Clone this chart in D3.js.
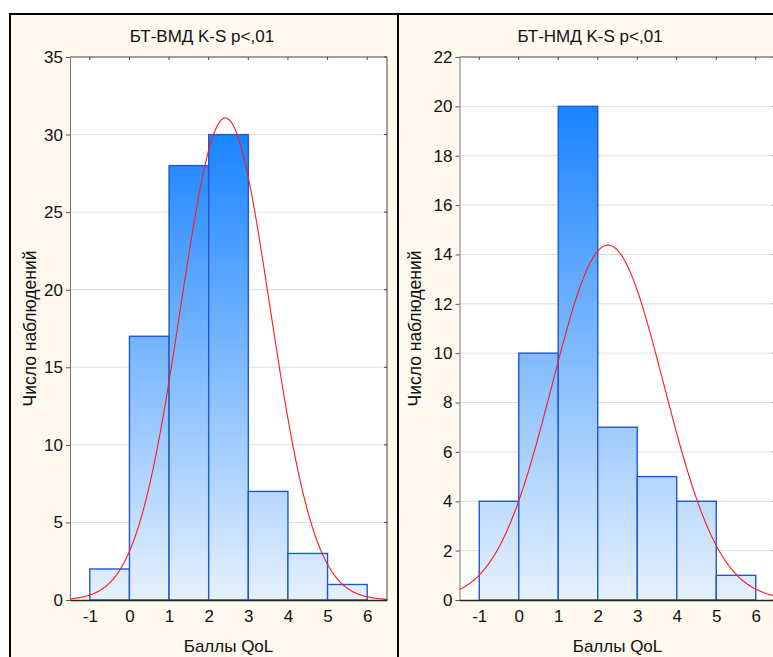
<!DOCTYPE html>
<html>
<head>
<meta charset="utf-8">
<script src="https://cdn.jsdelivr.net/npm/d3@7"></script>
<style>
  html, body { margin: 0; padding: 0; background: #ffffff; }
  svg { display: block; }
  text { font-family: Arial, "Liberation Sans", sans-serif; fill: #111; }
</style>
</head>
<body>
<svg id="chart" width="773" height="657"></svg>
<script>
// Histogram bins: each bin starts at binStarts[i] and is one point wide
const binStarts = [-1, 0, 1, 2, 3, 4, 5];
const binWidth = 1;
const xTickValues = [-1, 0, 1, 2, 3, 4, 5, 6];

// Observation counts per bin for the two groups
const countsVMD = [2, 17, 28, 30, 7, 3, 1];
const countsNMD = [4, 10, 20, 7, 5, 4, 1];

// Y axis tick values
const yTicksVMD = [0, 5, 10, 15, 20, 25, 30, 35];
const yTicksNMD = [0, 2, 4, 6, 8, 10, 12, 14, 16, 18, 20, 22];

// Fitted normal curve parameters (mean, standard deviation)
const fitMeans = [2.42, 2.26];
const fitSDs = [1.13, 1.415];

const titles = ["БТ-ВМД K-S p<,01", "БТ-НМД K-S p<,01"];
const xLabel = "Баллы QoL";
const yLabel = "Число наблюдений";

const svg = d3.select("#chart");
const defs = svg.append("defs");

const panels = [
  { x0: 9, width: 388, plotLeft: 70, plotRight: 387, yLabelX: 30,
    counts: countsVMD, yTicks: yTicksVMD, yMax: 35, mean: fitMeans[0], sd: fitSDs[0], title: titles[0] },
  { x0: 397, width: 388, plotLeft: 459.5, plotRight: 775.5, yLabelX: 415,
    counts: countsNMD, yTicks: yTicksNMD, yMax: 22, mean: fitMeans[1], sd: fitSDs[1], title: titles[1] }
];

const plotTop = 57, plotBottom = 600;
const labelFont = "Arial, 'Liberation Sans', sans-serif";
const plainNumber = d => String(d);

panels.forEach((p, i) => {
  const g = svg.append("g");

  // panel background and frame
  g.append("rect")
    .attr("x", p.x0 + 1).attr("y", 14)
    .attr("width", p.width).attr("height", 700)
    .attr("fill", "#fdf9ee")
    .attr("stroke", "#000").attr("stroke-width", 2);

  const x = d3.scaleLinear().domain([-1.5, 6.5]).range([p.plotLeft, p.plotRight]);
  const y = d3.scaleLinear().domain([0, p.yMax]).range([plotBottom, plotTop]);

  // plot area
  g.append("rect")
    .attr("x", p.plotLeft).attr("y", plotTop)
    .attr("width", p.plotRight - p.plotLeft).attr("height", plotBottom - plotTop)
    .attr("fill", "#ffffff");

  // horizontal grid lines
  g.append("g").selectAll("line")
    .data(p.yTicks.filter(t => t > 0 && t < p.yMax))
    .join("line")
    .attr("x1", p.plotLeft).attr("x2", p.plotRight)
    .attr("y1", d => y(d)).attr("y2", d => y(d))
    .attr("stroke", "#dedede").attr("stroke-width", 1);

  // vertical gradient for bar fill
  const maxCount = d3.max(p.counts);
  const gradId = "barGrad" + i;
  const grad = defs.append("linearGradient")
    .attr("id", gradId)
    .attr("gradientUnits", "userSpaceOnUse")
    .attr("x1", 0).attr("x2", 0)
    .attr("y1", y(maxCount)).attr("y2", y(0));
  grad.append("stop").attr("offset", "0%").attr("stop-color", "#1a84ff");
  grad.append("stop").attr("offset", "100%").attr("stop-color", "#e6f1fe");

  // histogram bars
  g.append("g").selectAll("rect")
    .data(binStarts.map((b, k) => ({ start: b, count: p.counts[k] })))
    .join("rect")
    .attr("x", d => x(d.start))
    .attr("width", d => x(d.start + binWidth) - x(d.start))
    .attr("y", d => y(d.count))
    .attr("height", d => y(0) - y(d.count))
    .attr("fill", `url(#${gradId})`)
    .attr("stroke", "#2358cc").attr("stroke-width", 1.4);

  // fitted normal curve, scaled to counts
  const n = d3.sum(p.counts);
  const clipId = "clip" + i;
  defs.append("clipPath").attr("id", clipId)
    .append("rect")
    .attr("x", p.plotLeft).attr("y", plotTop)
    .attr("width", p.plotRight - p.plotLeft).attr("height", plotBottom - plotTop);
  const curvePts = d3.range(-1.5, 6.5001, 0.02).map(v => [
    v,
    n * binWidth / (p.sd * Math.sqrt(2 * Math.PI)) * Math.exp(-((v - p.mean) ** 2) / (2 * p.sd * p.sd))
  ]);
  g.append("path")
    .datum(curvePts)
    .attr("clip-path", `url(#${clipId})`)
    .attr("fill", "none")
    .attr("stroke", "#ff1a1a").attr("stroke-width", 1.1)
    .attr("d", d3.line().x(d => x(d[0])).y(d => y(d[1])));

  // frame lines of the plot area
  g.append("line").attr("x1", p.plotLeft).attr("x2", p.plotRight).attr("y1", plotTop).attr("y2", plotTop)
    .attr("stroke", "#444").attr("stroke-width", 1);
  g.append("line").attr("x1", p.plotRight).attr("x2", p.plotRight).attr("y1", plotTop).attr("y2", plotBottom)
    .attr("stroke", "#444").attr("stroke-width", 1);

  // left axis
  const yAxis = d3.axisLeft(y).tickValues(p.yTicks).tickSize(4).tickPadding(3).tickFormat(plainNumber);
  const ya = g.append("g").attr("transform", `translate(${p.plotLeft},0)`).call(yAxis);
  ya.select(".domain").attr("stroke", "#777");
  ya.selectAll(".tick line").attr("stroke", "#555");
  ya.selectAll("text").attr("font-size", 17).attr("fill", "#111").attr("font-family", labelFont);

  // inner tick marks on right frame
  g.append("g").selectAll("line")
    .data(p.yTicks)
    .join("line")
    .attr("x1", p.plotRight - 3).attr("x2", p.plotRight)
    .attr("y1", d => y(d)).attr("y2", d => y(d))
    .attr("stroke", "#444");

  // bottom axis
  const xAxis = d3.axisBottom(x).tickValues(xTickValues).tickSize(0).tickPadding(10).tickFormat(plainNumber);
  const xa = g.append("g").attr("transform", `translate(0,${plotBottom})`).call(xAxis);
  xa.select(".domain").attr("stroke", "#222").attr("stroke-width", 1.5);
  xa.selectAll("text").attr("font-size", 17).attr("fill", "#111").attr("font-family", labelFont);

  // inner tick marks on top frame
  g.append("g").selectAll("line")
    .data(xTickValues)
    .join("line")
    .attr("x1", d => x(d)).attr("x2", d => x(d))
    .attr("y1", plotTop).attr("y2", plotTop + 3)
    .attr("stroke", "#444");

  // titles
  g.append("text")
    .attr("x", p.x0 + p.width / 2 - 1).attr("y", 42)
    .attr("text-anchor", "middle").attr("font-size", 17)
    .text(p.title);

  g.append("text")
    .attr("x", (p.plotLeft + p.plotRight) / 2).attr("y", 652)
    .attr("text-anchor", "middle").attr("font-size", 17)
    .text(xLabel);

  g.append("text")
    .attr("transform", `translate(${p.yLabelX},${(plotTop + plotBottom) / 2}) rotate(-90)`)
    .attr("text-anchor", "middle").attr("dy", "0.35em").attr("font-size", 17.5)
    .text(yLabel);
});

// white strips outside the panels
svg.append("rect").attr("x", 0).attr("y", 0).attr("width", 773).attr("height", 13).attr("fill", "#fff");
svg.append("rect").attr("x", 0).attr("y", 0).attr("width", 9).attr("height", 657).attr("fill", "#fff");
svg.append("line").attr("x1", 9).attr("x2", 773).attr("y1", 14).attr("y2", 14).attr("stroke", "#000").attr("stroke-width", 2);
svg.append("line").attr("x1", 10).attr("x2", 10).attr("y1", 13).attr("y2", 657).attr("stroke", "#000").attr("stroke-width", 2);
</script>
</body>
</html>
